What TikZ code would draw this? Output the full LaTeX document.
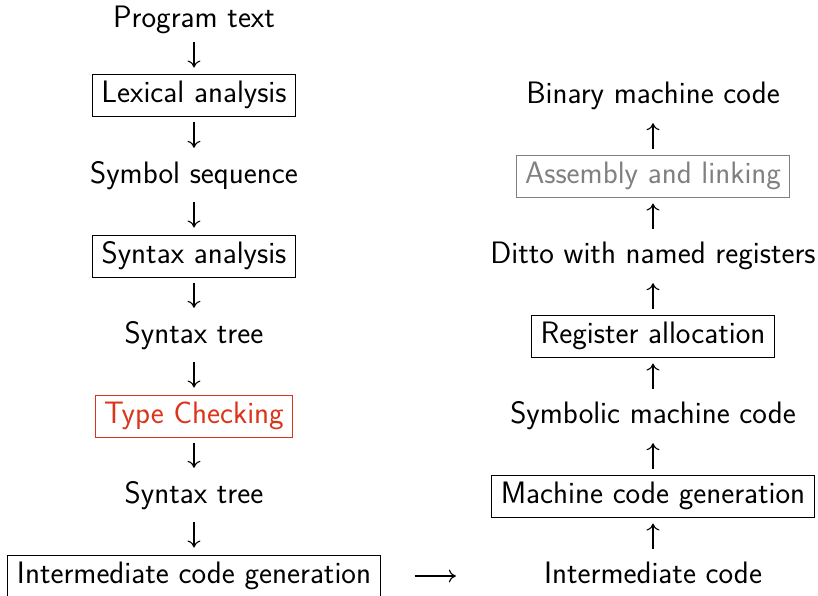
\documentclass[tikz,border=0pt]{standalone}
\usetikzlibrary{arrows.meta}
\definecolor{tcred}{RGB}{218,52,26}
\definecolor{asmgray}{RGB}{128,128,128}
\begin{document}
\begin{tikzpicture}[x=1pt,y=-1pt,
  lbl/.style={font=\sffamily\fontsize{31}{36}\selectfont, inner xsep=9pt, inner ysep=4pt,
    text height=24pt, text depth=10pt, anchor=base},
  box/.style={lbl, draw, line width=1pt},
  tip/.style={-{Computer Modern Rightarrow[length=7pt,width=13pt,line width=1.1pt]}},
  conn/.style={tip, line width=1.1pt, shorten <=5pt, shorten >=7pt},
  uconn/.style={tip, line width=1.1pt, shorten <=6pt, shorten >=6pt}]
\useasboundingbox (0,0) rectangle (818,595);
% left column
\node[lbl] (pt) at (194,27) {Program text};
\node[box] (lex) at (194,102) {Lexical analysis};
\node[lbl] (sym) at (194,183) {Symbol sequence};
\node[box] (syn) at (194,263) {Syntax analysis};
\node[lbl] (st1) at (194,343) {Syntax tree};
\node[box, draw=tcred, text=tcred] (tc) at (194,423) {Type Checking};
\node[lbl] (st2) at (194,503) {Syntax tree};
\node[box] (icg) at (194,583) {Intermediate code generation};
% right column
\node[lbl] (bin) at (653,103) {Binary machine code};
\node[box, draw=asmgray, text=asmgray] (asm) at (653,183) {Assembly and linking};
\node[lbl] (ditto) at (653,263) {Ditto with named registers};
\node[box] (reg) at (653,343) {Register allocation};
\node[lbl] (sym2) at (653,423) {Symbolic machine code};
\node[box] (mcg) at (653,503) {Machine code generation};
\node[lbl] (ic) at (653,583) {Intermediate code};
% down arrows
\draw[conn, shorten <=1pt, shorten >=6pt] (pt) -- (lex);
\draw[conn] (lex) -- (sym);
\draw[conn] (sym) -- (syn);
\draw[conn] (syn) -- (st1);
\draw[conn] (st1) -- (tc);
\draw[conn] (tc) -- (st2);
\draw[conn] (st2) -- (icg);
% up arrows
\draw[uconn] (ic) -- (mcg);
\draw[uconn] (mcg) -- (sym2);
\draw[uconn] (sym2) -- (reg);
\draw[uconn] (reg) -- (ditto);
\draw[uconn] (ditto) -- (asm);
\draw[uconn] (asm) -- (bin);
% horizontal
\draw[tip, line width=1.1pt, shorten <=34pt, shorten >=79pt] (icg.east) -- (ic.west);
\end{tikzpicture}
\end{document}
